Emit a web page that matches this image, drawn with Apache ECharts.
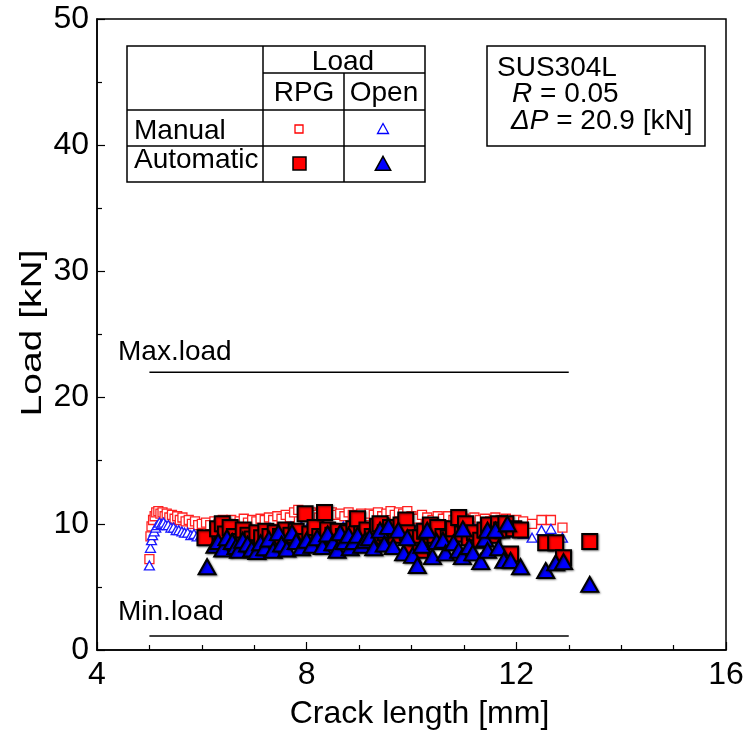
<!DOCTYPE html>
<html>
<head>
<meta charset="utf-8">
<script src="https://cdn.jsdelivr.net/npm/echarts@6/dist/echarts.min.js"></script>
<style>
  html, body { margin: 0; padding: 0; background: #fff; }
  #chart { width: 750px; height: 738px; }
</style>
</head>
<body>
<div id="chart"></div>
<script>
// Load vs crack length, SUS304L, R = 0.05
const xTicks = [4, 8, 12, 16];
const yTicks = [0, 10, 20, 30, 40, 50];

// Max / min load lines [crack length, load]
const maxLoad = [[5.0, 22.0], [13.0, 22.0]];
const minLoad = [[5.0, 1.1], [13.0, 1.1]];

// Manual measurement, RPG load
const manualRpg = [
  [5.00,7.2],[5.02,9.0],[5.04,9.8],[5.07,10.3],[5.10,10.6],[5.13,10.9],[5.17,11.0],[5.21,10.8],
  [5.25,10.9],[5.29,10.6],[5.33,10.8],[5.38,10.5],[5.43,10.7],[5.48,10.4],[5.53,10.6],[5.58,10.3],
  [5.63,10.5],[5.69,10.2],[5.75,10.3],[5.81,10.0],[5.87,10.2],[5.93,9.9],[6.00,10.0],[6.08,10.1],
  [6.16,9.9],[6.24,10.2],[6.32,10.0],[6.40,10.3],[6.48,10.1],[6.56,10.3],[6.64,10.0],[6.72,10.2],
  [6.80,10.4],[6.88,10.1],[6.96,10.3],[7.04,10.2],[7.12,10.4],[7.20,10.3],[7.28,10.5],[7.36,10.3],
  [7.44,10.6],[7.52,10.4],[7.60,10.7],[7.68,10.5],[7.76,10.9],[7.84,11.1],[7.92,10.8],[8.00,10.6],
  [8.08,10.9],[8.16,10.7],[8.24,10.5],[8.32,10.8],[8.40,10.6],[8.48,10.9],[8.56,10.7],[8.64,10.8],
  [8.72,10.6],[8.80,10.9],[8.88,10.7],[8.96,10.5],[9.04,10.8],[9.12,10.6],[9.20,10.8],[9.28,10.7],
  [9.36,10.9],[9.44,10.6],[9.52,10.8],[9.60,11.0],[9.68,10.7],[9.76,10.9],[9.84,10.8],[9.92,11.0],
  [10.00,10.6],[10.10,10.4],[10.20,10.7],[10.30,10.5],[10.40,10.3],[10.50,10.6],[10.60,10.4],
  [10.70,10.6],[10.80,10.3],[10.90,10.5],[11.00,10.4],[11.10,10.2],[11.20,10.5],[11.30,10.3],
  [11.40,10.4],[11.50,10.2],[11.60,10.5],[11.70,10.3],[11.80,10.4],[11.90,10.2],[12.00,10.3],
  [12.13,10.2],[12.30,10.0],[12.48,10.3],[12.66,10.3],[12.88,9.7]
];

// Manual measurement, opening load
const manualOpen = [
  [5.00,6.7],[5.02,8.1],[5.04,8.7],[5.06,9.1],[5.09,9.4],[5.12,9.7],[5.15,9.9],[5.19,10.1],
  [5.23,10.0],[5.27,10.1],[5.31,9.9],[5.36,9.9],[5.41,9.7],[5.46,9.7],[5.51,9.5],[5.56,9.5],
  [5.62,9.4],[5.67,9.3],[5.73,9.3],[5.79,9.1],[5.85,9.2],[5.91,9.0],[5.98,9.1],[6.05,9.0],
  [6.12,9.1],[6.20,9.2],[6.30,9.3],[6.40,9.2],[6.50,9.4],[6.60,9.3],[6.70,9.5],[6.80,9.3],
  [6.90,9.5],[7.00,9.4],[7.10,9.6],[7.20,9.4],[7.30,9.7],[7.40,9.5],[7.50,9.7],[7.60,9.5],
  [7.70,9.8],[7.80,9.6],[7.90,9.8],[8.00,9.6],[8.10,9.7],[8.20,9.5],[8.30,9.8],[8.40,9.6],
  [8.50,9.7],[8.60,9.5],[8.70,9.8],[8.80,9.6],[8.90,9.7],[9.00,9.5],[9.10,9.8],[9.20,9.6],
  [9.30,9.7],[9.40,9.5],[9.50,9.8],[9.60,9.6],[9.70,9.7],[9.80,9.5],[9.90,9.6],[10.00,9.4],
  [10.10,9.6],[10.20,9.7],[10.30,9.5],[10.40,9.7],[10.50,9.9],[10.60,9.5],[10.70,9.6],
  [10.80,9.4],[10.90,9.6],[11.00,9.5],[11.10,9.3],[11.20,9.6],[11.30,9.4],[11.40,9.5],
  [11.50,9.3],[11.60,9.5],[11.70,9.4],[11.80,9.5],[11.90,9.3],[12.00,9.4],[12.13,9.2],
  [12.30,8.9],[12.48,9.5],[12.66,9.6],[12.88,8.9]
];

// Automatic measurement, RPG load
const autoRpg = [
  [6.06,8.9],[6.30,9.6],[6.39,10.0],[6.45,9.2],[6.54,9.7],[6.62,9.0],[6.72,8.6],[6.79,9.5],
  [6.88,9.1],[6.96,8.8],[7.05,9.3],[7.14,8.9],[7.22,9.4],[7.30,9.0],[7.40,9.3],[7.50,9.0],
  [7.60,9.5],[7.70,9.1],[7.80,9.4],[7.90,8.6],[7.97,10.8],[8.06,9.2],[8.16,9.7],[8.25,9.0],
  [8.34,10.9],[8.40,9.5],[8.50,9.1],[8.60,9.4],[8.70,9.0],[8.80,9.3],[8.90,9.6],[8.97,10.4],
  [9.05,9.2],[9.15,9.5],[9.25,9.0],[9.35,9.8],[9.40,10.0],[9.50,9.3],[9.60,9.7],[9.70,9.1],
  [9.80,9.9],[9.89,10.3],[9.92,9.3],[9.98,8.1],[10.08,8.9],[10.17,8.9],[10.17,7.9],[10.25,9.4],
  [10.36,9.9],[10.45,9.1],[10.50,9.7],[10.60,9.0],[10.70,8.9],[10.80,9.6],[10.90,10.5],
  [10.97,9.2],[11.03,10.0],[11.10,8.9],[11.20,9.3],[11.32,8.7],[11.40,9.5],[11.47,9.9],
  [11.55,9.1],[11.66,10.0],[11.72,9.5],[11.80,10.0],[11.89,7.6],[11.95,9.6],[12.08,9.5],
  [12.56,8.5],[12.75,8.5],[12.90,7.3],[13.40,8.6]
];

// Automatic measurement, opening load
const autoOpen = [
  [6.10,6.6],[6.25,8.3],[6.31,8.6],[6.40,8.0],[6.48,8.9],[6.58,8.6],[6.65,8.2],[6.70,7.9],
  [6.78,8.7],[6.87,8.4],[6.95,8.0],[7.05,7.8],[7.12,8.5],[7.20,8.1],[7.28,8.8],[7.36,7.9],
  [7.46,9.3],[7.52,8.4],[7.62,8.0],[7.72,9.3],[7.80,8.6],[7.90,8.1],[8.00,8.7],[8.10,8.3],
  [8.20,8.9],[8.30,8.2],[8.40,9.2],[8.50,8.5],[8.58,7.9],[8.64,9.3],[8.72,8.6],[8.80,9.1],
  [8.83,8.1],[8.90,8.6],[8.97,9.1],[9.05,8.3],[9.12,8.7],[9.20,8.9],[9.28,8.1],[9.40,9.5],
  [9.48,8.4],[9.56,9.8],[9.65,8.2],[9.75,9.5],[9.85,7.7],[9.92,8.9],[10.02,7.5],[10.11,6.7],
  [10.20,8.3],[10.30,9.5],[10.40,7.4],[10.48,8.6],[10.60,8.7],[10.65,7.7],[10.80,8.5],
  [10.90,7.9],[10.97,7.4],[10.98,9.6],[11.10,8.2],[11.17,7.7],[11.32,7.0],[11.40,8.8],
  [11.45,7.9],[11.45,9.5],[11.60,9.5],[11.66,8.1],[11.76,7.1],[11.83,10.0],[11.89,7.1],
  [12.08,6.6],[12.56,6.3],[12.75,6.9],[12.90,7.0],[13.40,5.2]
];

const FONT = '"Liberation Sans", Arial, sans-serif';
const chart = echarts.init(document.getElementById('chart'), null, { renderer: 'canvas' });

const markShadow = { shadowBlur: 2, shadowColor: 'rgba(0,0,0,0.45)', shadowOffsetX: 1, shadowOffsetY: 1 };

// Legend table drawn as lines, text and marker shapes
const T = { l: 127, r: 425, t: 46, b: 182, c1: 263, c2: 344, r1: 73, r2: 110, r3: 146 };
const line = (x1, y1, x2, y2) => ({
  type: 'line', shape: { x1, y1, x2, y2 }, style: { stroke: '#000', lineWidth: 1.5 }, silent: true
});
const txt = (x, y, text, size, align) => ({
  type: 'text', x, y, style: { text, font: size + 'px ' + FONT, fill: '#000', textAlign: align || 'left', textVerticalAlign: 'middle' }
});
const tri = (cx, cy, s, fill, stroke, lw) => ({
  type: 'polygon', shape: { points: [[cx, cy - s * 0.55], [cx + s * 0.55, cy + s * 0.45], [cx - s * 0.55, cy + s * 0.45]] },
  style: { fill, stroke, lineWidth: lw }
});

const graphics = [
  { type: 'rect', shape: { x: T.l, y: T.t, width: T.r - T.l, height: T.b - T.t }, style: { fill: '#fff', stroke: '#000', lineWidth: 1.5 } },
  line(T.c1, T.t, T.c1, T.b),
  line(T.c2, T.r1, T.c2, T.b),
  line(T.c1, T.r1, T.r, T.r1),
  line(T.l, T.r2, T.r, T.r2),
  line(T.l, T.r3, T.r, T.r3),
  txt(343, 62, 'Load', 28, 'center'),
  txt(304, 93, 'RPG', 28, 'center'),
  txt(384, 93, 'Open', 28, 'center'),
  txt(134, 131, 'Manual', 28),
  txt(134, 160, 'Automatic', 28),
  { type: 'rect', shape: { x: 295, y: 125, width: 8, height: 8 }, style: { fill: '#fff', stroke: '#ff0000', lineWidth: 1.3 } },
  tri(383, 129, 10, '#fff', '#0000ff', 1.3),
  { type: 'rect', shape: { x: 293, y: 157, width: 13, height: 13 }, style: { fill: '#ff0000', stroke: '#000', lineWidth: 1.5 } },
  tri(383, 164, 14, '#0000ff', '#000', 1.5),
  // Specimen / loading condition box
  { type: 'rect', shape: { x: 487, y: 46, width: 218, height: 100 }, style: { fill: '#fff', stroke: '#000', lineWidth: 1.5 } },
  txt(497, 68, 'SUS304L', 28),
  {
    type: 'text', x: 512, y: 94,
    style: {
      text: '{i|R} = 0.05', textVerticalAlign: 'middle',
      font: '28px ' + FONT, fill: '#000',
      rich: { i: { fontStyle: 'italic', fontSize: 28, fontFamily: FONT } }
    }
  },
  {
    type: 'text', x: 511, y: 121,
    style: {
      text: '{i|ΔP} = 20.9 [kN]', textVerticalAlign: 'middle',
      font: '28px ' + FONT, fill: '#000',
      rich: { i: { fontStyle: 'italic', fontSize: 28, fontFamily: FONT } }
    }
  },
  txt(118, 352, 'Max.load', 28),
  txt(118, 612, 'Min.load', 28),
  // Vertical axis title, drawn elongated along its length
  {
    type: 'text', x: 33, y: 333, rotation: Math.PI / 2, scaleX: 1.3,
    style: { text: 'Load [kN]', font: '30px ' + FONT, fill: '#000', textAlign: 'center', textVerticalAlign: 'middle' }
  }
];

const option = {
  animation: false,
  backgroundColor: '#fff',
  grid: { left: 97, right: 24, top: 19, bottom: 88, show: true, borderColor: '#000', borderWidth: 1.5, backgroundColor: 'transparent' },
  xAxis: {
    type: 'value', min: xTicks[0], max: xTicks[xTicks.length - 1], interval: 4,
    axisLine: { show: true, onZero: false, lineStyle: { color: '#000', width: 1.5 } },
    axisTick: { show: true, inside: true, length: 8, lineStyle: { color: '#000', width: 1.2 } },
    minorTick: { show: true, splitNumber: 4, length: 5, lineStyle: { color: '#000', width: 1.2 } },
    splitLine: { show: false },
    axisLabel: { fontSize: 32, fontFamily: FONT, color: '#000', margin: 9 },
    name: 'Crack length [mm]', nameLocation: 'middle', nameGap: 48,
    nameTextStyle: { fontSize: 32, fontFamily: FONT, color: '#000', padding: [0, 0, 0, 16] }
  },
  yAxis: {
    type: 'value', min: yTicks[0], max: yTicks[yTicks.length - 1], interval: 10,
    axisLine: { show: true, onZero: false, lineStyle: { color: '#000', width: 1.5 } },
    axisTick: { show: true, inside: true, length: 8, lineStyle: { color: '#000', width: 1.2 } },
    minorTick: { show: true, splitNumber: 2, length: 5, lineStyle: { color: '#000', width: 1.2 } },
    splitLine: { show: false },
    axisLabel: { fontSize: 32, fontFamily: FONT, color: '#000', margin: 8 }
  },
  series: [
    {
      name: 'Max.load', type: 'line', data: maxLoad, symbol: 'none', silent: true,
      lineStyle: { color: '#000', width: 1.5 }
    },
    {
      name: 'Min.load', type: 'line', data: minLoad, symbol: 'none', silent: true,
      lineStyle: { color: '#000', width: 1.5 }
    },
    {
      name: 'Manual RPG', type: 'scatter', data: manualRpg, symbol: 'rect', symbolSize: 9,
      itemStyle: { color: '#fff', borderColor: '#ff2020', borderWidth: 1.3, opacity: 1 }
    },
    {
      name: 'Manual Open', type: 'scatter', data: manualOpen, symbol: 'triangle', symbolSize: [10, 9],
      itemStyle: { color: '#fff', borderColor: '#1a1aff', borderWidth: 1.3, opacity: 1 }
    },
    {
      name: 'Automatic RPG', type: 'scatter', data: autoRpg, symbol: 'rect', symbolSize: 15,
      itemStyle: Object.assign({ color: '#ff0000', borderColor: '#000', borderWidth: 2, opacity: 1 }, markShadow)
    },
    {
      name: 'Automatic Open', type: 'scatter', data: autoOpen, symbol: 'triangle', symbolSize: [17, 15],
      itemStyle: Object.assign({ color: '#0000ff', borderColor: '#000', borderWidth: 2, opacity: 1 }, markShadow)
    }
  ],
  graphic: graphics
};

chart.setOption(option);
</script>
</body>
</html>
